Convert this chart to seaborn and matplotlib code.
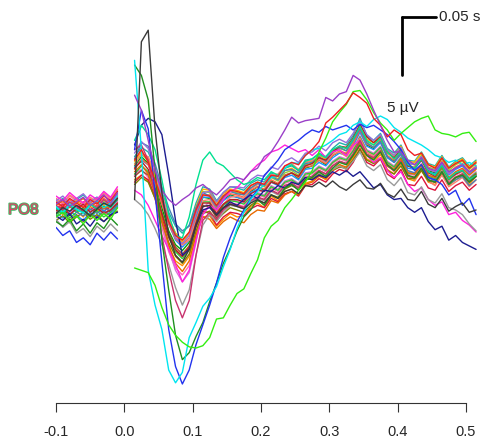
import pandas as pd
import seaborn as sns
import matplotlib.pyplot as plt
import matplotlib.patheffects as pe

# sample times (s): baseline part and post-stimulus part
t_pre = [-0.10, -0.09, -0.08, -0.07, -0.06, -0.05, -0.04, -0.03, -0.02, -0.01]
t_post = [0.015, 0.025, 0.035, 0.045, 0.055, 0.065, 0.075, 0.085, 0.095, 0.105,
          0.115, 0.125, 0.135, 0.145, 0.155, 0.165, 0.175, 0.185, 0.195, 0.205,
          0.215, 0.225, 0.235, 0.245, 0.255, 0.265, 0.275, 0.285, 0.295, 0.305,
          0.315, 0.325, 0.335, 0.345, 0.355, 0.365, 0.375, 0.385, 0.395, 0.405,
          0.415, 0.425, 0.435, 0.445, 0.455, 0.465, 0.475, 0.485, 0.495, 0.505,
          0.515]

# channel amplitudes (uV)
spike_pre = [-0.3, 0.2, -0.1, 0.4, 0.0, -0.5, 0.1, 0.6, 0.3, 1.0]
spike_post = [0.9, 14.5, 15.5, 7.0, 1.5, -2.2, -3.9, -4.5, -3.4, -1.3,
              0.3, 0.4, -0.5, 0.2, 0.5, 0.3, 0.1, 0.6, 0.9, 0.6,
              1.3, 1.0, 1.6, 1.8, 1.4, 2.1, 2.0, 2.4, 2.0, 2.5,
              2.0, 1.7, 2.2, 2.6, 1.9, 1.8, 2.3, 1.4, 1.1, 1.8,
              0.9, 0.8, 1.6, 0.5, 0.2, 1.0, -0.1, 0.3, 0.6, -0.2, 0.0]

cyan_pre = [0.3, -0.2, 0.5, 0.1, -0.3, 0.4, 0.8, 0.2, 0.6, 1.2]
cyan_post = [12.9, 5.2, -5.2, -8.2, -10.3, -13.8, -14.9, -14.0, -11.0, -9.7,
             -8.3, -7.6, -6.6, -4.9, -3.4, -1.6, -0.2, 0.9, 1.6, 2.2,
             2.8, 2.9, 3.6, 4.1, 4.0, 4.7, 5.2, 5.3, 5.6, 6.0,
             6.5, 6.7, 7.3, 7.6, 7.2, 7.8, 8.1, 7.8, 7.1, 6.7,
             6.2, 5.9, 5.6, 5.2, 4.7, 4.5, 4.1, 4.3, 3.9, 4.1, 3.8]

blue_pre = [-1.5, -2.2, -1.8, -2.8, -2.4, -3.0, -2.0, -2.6, -1.9, -2.5]
blue_post = [5.2, 8.6, 7.0, 1.5, -4.5, -10.3, -13.5, -15.0, -13.8, -11.6,
             -9.9, -8.2, -6.3, -4.1, -2.4, -1.0, 0.0, 1.0, 1.7, 3.0,
             3.6, 4.3, 5.2, 5.6, 6.0, 6.5, 6.9, 6.7, 7.2, 6.9,
             7.1, 7.3, 6.9, 7.4, 7.1, 7.3, 6.9, 6.5, 5.9, 5.2,
             4.1, 3.4, 3.9, 2.8, 2.6, 2.2, 1.3, 1.7, 0.4, 1.0, -0.4]

lime_pre = [-0.6, -0.2, -1.0, -0.5, -1.2, -0.4, -0.9, -0.3, -0.8, 0.2]
lime_post = [-5.0, -5.2, -5.4, -6.5, -8.4, -9.9, -10.8, -11.4, -11.8, -11.9,
             -11.7, -11.0, -9.4, -9.3, -8.2, -7.2, -6.8, -5.5, -4.3, -2.4,
             -1.4, -0.9, 0.2, 0.9, 1.7, 2.4, 3.4, 5.0, 6.2, 7.6,
             8.4, 9.1, 10.2, 10.3, 9.5, 8.4, 7.5, 6.9, 6.0, 6.6,
             7.1, 7.6, 7.9, 8.1, 6.9, 6.6, 6.5, 6.3, 6.6, 6.7, 5.9]

dkgreen_pre = [-1.0, -1.4, -0.8, -1.8, -1.2, -2.0, -1.1, -1.6, -0.7, -1.3]
dkgreen_post = [12.5, 11.6, 9.5, 3.4, -2.6, -6.9, -10.8, -12.9, -12.3, -10.9,
                -9.7, -7.9, -6.3, -4.6, -3.3, -1.8, -0.6, 0.0, 0.9, 0.4,
                1.3, 1.0, 1.9, 2.2, 1.7, 2.6, 2.8, 3.3, 2.9, 3.6,
                4.1, 3.9, 4.7, 5.6, 4.7, 4.3, 5.0, 3.9, 3.4, 4.1,
                3.0, 2.8, 3.6, 2.6, 2.4, 3.3, 2.2, 2.8, 3.0, 2.4, 2.9]

purple_pre = [0.5, 0.9, 0.3, 0.7, 1.1, 0.4, 0.8, 1.3, 0.6, 1.5]
purple_post = [9.9, 8.6, 6.0, 3.4, 1.7, 0.9, 0.4, 0.9, 1.3, 1.9,
               2.2, 1.7, 1.3, 1.9, 2.6, 2.8, 2.6, 3.3, 3.6, 4.6,
               5.0, 5.9, 6.9, 8.0, 7.5, 7.7, 7.8, 7.9, 9.7, 9.4,
               10.0, 10.2, 11.6, 11.2, 10.0, 8.6, 7.3, 6.0, 5.0, 5.0,
               4.3, 3.9, 4.5, 3.6, 3.4, 4.1, 3.3, 3.6, 3.9, 3.3, 3.6]

spring_pre = [0.2, -0.3, 0.4, 0.0, -0.2, 0.5, 0.1, 0.6, 0.2, 0.9]
spring_post = [6.0, 7.3, 6.5, 5.2, 2.6, -0.4, -2.2, -2.4, -0.6, 2.2,
               4.3, 5.0, 4.1, 3.8, 3.2, 2.6, 2.2, 2.4, 2.8, 2.6,
               3.3, 3.0, 3.6, 3.9, 3.4, 4.2, 4.4, 4.8, 4.5, 5.2,
               5.5, 5.3, 6.1, 7.2, 6.0, 5.6, 6.2, 5.0, 4.4, 5.1,
               3.9, 3.6, 4.4, 3.3, 3.0, 3.8, 2.7, 3.2, 3.4, 2.6, 3.0]

gray_pre = [-0.8, -1.5, -1.0, -2.0, -1.6, -2.3, -1.4, -1.9, -1.2, -1.8]
gray_post = [0.9, 0.4, -0.4, -1.6, -3.0, -4.7, -6.7, -8.2, -6.9, -3.9,
             -1.3, -0.4, -1.0, -0.2, 0.4, 0.3, 0.1, 0.7, 1.0, 0.8,
             1.6, 1.3, 2.0, 2.2, 1.8, 2.7, 2.8, 3.2, 2.9, 3.5,
             3.8, 3.5, 4.2, 5.0, 3.8, 3.4, 3.9, 2.6, 2.1, 2.8,
             1.5, 1.3, 2.0, 0.9, 0.6, 1.4, 0.2, 0.0, -0.4, -1.2, -1.8]

vred_pre = [0.4, 0.0, 0.7, 0.3, -0.1, 0.5, 0.2, 0.9, 0.4, 1.1]
vred_post = [5.2, 5.6, 4.3, 1.3, -2.2, -5.2, -7.8, -9.3, -7.8, -3.9,
             -0.9, -0.2, -0.8, 0.0, 0.5, 0.4, 0.2, 0.8, 1.1, 0.9,
             1.7, 1.4, 2.1, 2.3, 1.9, 2.8, 2.9, 3.4, 3.1, 3.8,
             4.2, 4.0, 4.8, 6.0, 4.8, 4.5, 5.1, 3.8, 3.4, 4.2,
             2.9, 2.8, 3.6, 2.6, 2.4, 3.3, 2.3, 2.8, 3.1, 2.4, 2.9]

navy_pre = [-0.5, -0.9, -0.3, -1.2, -0.8, -1.4, -0.6, -1.0, -0.4, -0.2]
navy_post = [5.6, 7.3, 7.9, 7.6, 6.5, 3.0, -0.9, -3.9, -3.4, -1.3,
             0.0, 0.2, -0.4, 0.2, 0.7, 0.4, 0.9, 1.3, 1.0, 1.7,
             1.6, 2.1, 1.9, 2.4, 2.2, 2.8, 2.6, 3.0, 2.8, 3.3,
             3.0, 3.4, 2.9, 3.3, 2.6, 1.9, 2.2, 1.3, 0.9, 1.0,
             0.2, -0.2, 0.2, -1.0, -1.7, -1.4, -2.6, -2.2, -2.8, -3.1, -3.4]

red_pre = [0.7, 0.3, 1.0, 0.6, 0.2, 0.9, 0.5, 1.2, 0.8, 1.6]
red_post = [4.3, 5.2, 4.1, 2.6, 0.9, -1.0, -2.2, -2.6, -1.9, 0.0,
            1.3, 1.2, 0.4, 1.2, 1.7, 1.6, 1.4, 2.1, 2.4, 2.2,
            3.0, 2.9, 3.8, 4.1, 3.9, 4.7, 5.2, 5.9, 7.5, 8.0,
            8.6, 9.2, 10.1, 9.7, 9.2, 7.9, 7.3, 6.3, 6.9, 6.5,
            5.2, 4.7, 4.9, 3.9, 3.6, 4.5, 3.6, 4.0, 4.3, 3.6, 4.1]

magenta_pre = [1.2, 0.8, 1.5, 1.0, 0.6, 1.3, 0.9, 1.6, 1.1, 2.0]
magenta_post = [1.7, 1.3, 0.4, -0.9, -2.2, -3.4, -4.7, -6.2, -5.2, -2.6,
                -0.4, 0.4, 0.0, 0.9, 1.6, 1.9, 2.6, 3.3, 3.9, 4.3,
                5.0, 5.2, 5.6, 5.3, 5.0, 5.2, 4.7, 5.2, 4.5, 5.0,
                5.2, 4.7, 5.6, 6.0, 4.7, 4.1, 4.5, 3.4, 2.8, 3.3,
                2.2, 1.6, 1.9, 0.9, 0.4, 0.7, -0.4, -0.2, -0.9, -1.3, -1.9]

orange_pre = [0.2, -0.4, 0.5, -0.1, -0.6, 0.3, -0.2, 0.4, 0.0, 0.6]
orange_post = [2.6, 3.0, 2.5, 1.0, -1.2, -3.2, -4.4, -4.8, -4.0, -2.0,
               -0.6, -0.5, -1.4, -0.8, -0.3, -0.6, -0.5, 0.3, 0.6, 0.2,
               1.2, 0.8, 1.6, 1.8, 1.3, 2.3, 2.5, 3.0, 2.6, 3.4,
               3.9, 3.5, 4.4, 5.6, 4.4, 4.1, 4.8, 3.5, 3.1, 4.0,
               2.7, 2.5, 3.4, 2.4, 2.2, 3.2, 2.1, 2.6, 3.0, 2.2, 2.9]

green_pre = [-0.3, 0.1, -0.5, 0.2, -0.1, -0.6, 0.0, 0.3, -0.2, 0.5]
green_post = [3.8, 4.6, 4.0, 2.4, 0.2, -1.8, -3.0, -3.5, -2.8, -0.7,
              1.1, 1.0, 0.0, 0.9, 1.3, 1.1, 0.9, 1.6, 2.0, 1.7,
              2.5, 2.2, 3.0, 3.2, 2.7, 3.6, 3.8, 4.3, 3.9, 4.7,
              5.0, 4.8, 5.7, 6.8, 5.6, 5.3, 6.0, 4.6, 4.2, 5.0,
              3.8, 3.6, 4.4, 3.4, 3.2, 4.1, 3.1, 3.6, 3.9, 3.2, 3.7]

teal_pre = [0.6, 1.0, 0.4, 0.9, 1.3, 0.7, 1.1, 0.5, 1.0, 1.4]
teal_post = [4.6, 5.4, 5.0, 3.6, 1.6, -0.2, -1.4, -2.0, -1.3, 0.6,
             2.0, 1.8, 0.8, 1.5, 2.0, 1.9, 1.7, 2.3, 2.6, 2.4,
             3.2, 2.9, 3.6, 3.8, 3.4, 4.3, 4.4, 4.9, 4.6, 5.3,
             5.8, 5.6, 6.4, 7.9, 6.4, 6.0, 6.6, 5.3, 4.9, 5.6,
             4.3, 4.2, 5.0, 4.0, 3.8, 4.7, 3.7, 4.2, 4.5, 3.8, 4.3]

pink_pre = [0.9, 0.5, 1.2, 0.8, 0.3, 1.0, 0.6, 1.4, 0.9, 1.7]
pink_post = [3.0, 3.5, 2.8, 1.0, -1.5, -3.6, -5.0, -5.6, -4.8, -2.5,
             -0.2, 0.4, -0.5, 0.2, 0.6, 0.5, 0.3, 1.0, 1.3, 1.1,
             1.9, 1.6, 2.3, 2.5, 2.1, 3.0, 3.1, 3.6, 3.3, 4.0,
             4.4, 4.2, 5.0, 6.1, 5.0, 4.7, 5.3, 4.0, 3.6, 4.4,
             3.1, 3.0, 3.8, 2.8, 2.6, 3.5, 2.5, 3.0, 3.3, 2.6, 3.1]

brown_pre = [-0.6, -0.2, -0.9, -0.4, -1.0, -0.3, -0.7, -0.1, -0.5, 0.2]
brown_post = [2.9, 3.4, 3.0, 1.6, -0.4, -2.0, -3.2, -3.8, -3.1, -1.2,
              0.4, 0.3, -0.7, 0.1, 0.5, 0.4, 0.2, 0.8, 1.1, 0.9,
              1.7, 1.4, 2.1, 2.3, 1.9, 2.8, 2.9, 3.4, 3.1, 3.8,
              4.2, 4.0, 4.8, 6.0, 4.8, 4.5, 5.1, 3.8, 3.4, 4.2,
              2.9, 2.8, 3.6, 2.6, 2.4, 3.3, 2.3, 2.8, 3.1, 2.4, 2.9]

ygreen_pre = [0.3, -0.1, 0.6, 0.2, -0.3, 0.5, 0.1, 0.8, 0.4, 1.0]
ygreen_post = [4.0, 4.8, 4.3, 2.9, 1.0, -0.8, -2.0, -2.6, -2.0, 0.1,
               1.6, 1.5, 0.4, 1.2, 1.6, 1.5, 1.3, 1.9, 2.2, 2.0,
               2.8, 2.5, 3.2, 3.4, 3.0, 3.9, 4.0, 4.5, 4.2, 4.9,
               5.3, 5.1, 5.9, 7.1, 5.9, 5.6, 6.2, 4.9, 4.5, 5.3,
               4.0, 3.9, 4.7, 3.7, 3.5, 4.4, 3.4, 3.9, 4.2, 3.5, 4.0]

crimson_pre = [0.1, 0.5, -0.2, 0.3, 0.7, 0.0, 0.4, -0.1, 0.3, 0.8]
crimson_post = [2.4, 3.0, 2.6, 1.2, -0.7, -2.4, -3.5, -4.0, -3.4, -1.5,
                -0.1, -0.3, -1.3, -0.6, -0.2, -0.3, -0.5, 0.1, 0.4, 0.2,
                1.0, 0.7, 1.4, 1.6, 1.2, 2.1, 2.2, 2.7, 2.4, 3.1,
                3.5, 3.3, 4.1, 5.3, 4.1, 3.8, 4.4, 3.1, 2.7, 3.5,
                2.2, 2.1, 2.9, 1.9, 1.7, 2.6, 1.6, 2.1, 2.4, 1.7, 2.2]

dodger_pre = [-0.2, -0.7, -0.1, -0.5, -0.9, -0.2, -0.6, 0.0, -0.4, 0.3]
dodger_post = [3.7, 4.3, 3.9, 2.5, 0.6, -1.2, -2.6, -3.2, -2.6, -0.6,
               1.1, 1.1, 0.0, 0.8, 1.2, 1.1, 0.9, 1.5, 1.8, 1.6,
               2.4, 2.1, 2.8, 3.0, 2.6, 3.5, 3.6, 4.1, 3.8, 4.5,
               4.9, 4.7, 5.5, 6.7, 5.5, 5.2, 5.8, 4.5, 4.1, 4.9,
               3.6, 3.5, 4.3, 3.3, 3.1, 4.0, 3.0, 3.5, 3.8, 3.1, 3.6]

gold_pre = [0.5, 0.9, 0.3, 0.8, 0.2, 0.6, 1.0, 0.4, 0.8, 1.2]
gold_post = [4.2, 5.0, 4.4, 3.0, 1.0, -0.7, -2.0, -2.8, -2.1, 0.3,
             1.8, 1.7, 0.6, 1.4, 1.8, 1.7, 1.5, 2.1, 2.4, 2.2,
             3.0, 2.7, 3.4, 3.6, 3.2, 4.1, 4.2, 4.7, 4.4, 5.1,
             5.5, 5.3, 6.1, 7.3, 6.1, 5.8, 6.4, 5.1, 4.7, 5.5,
             4.2, 4.1, 4.9, 3.9, 3.7, 4.6, 3.6, 4.1, 4.4, 3.7, 4.2]

orchid_pre = [0.0, 0.4, -0.3, 0.2, 0.6, -0.1, 0.3, -0.4, 0.1, 0.7]
orchid_post = [3.0, 3.8, 3.2, 1.5, -1.0, -3.4, -5.2, -6.2, -5.4, -2.8,
               0.2, 0.7, -0.3, 0.5, 0.9, 0.8, 0.6, 1.2, 1.5, 1.3,
               2.1, 1.8, 2.5, 2.7, 2.3, 3.2, 3.3, 3.8, 3.5, 4.2,
               4.6, 4.4, 5.2, 6.4, 5.2, 4.9, 5.5, 4.2, 3.8, 4.6,
               3.3, 3.2, 4.0, 3.0, 2.8, 3.7, 2.7, 3.2, 3.5, 2.8, 3.3]

tomato_pre = [0.6, 0.2, 0.9, 0.4, 0.0, 0.7, 0.3, 1.0, 0.6, 1.3]
tomato_post = [3.5, 4.4, 3.9, 2.4, 0.5, -1.2, -2.5, -3.0, -2.4, -0.3,
               1.3, 1.3, 0.2, 1.0, 1.4, 1.3, 1.1, 1.7, 2.0, 1.8,
               2.6, 2.3, 3.0, 3.2, 2.8, 3.7, 3.8, 4.3, 4.0, 4.7,
               5.1, 4.9, 5.7, 6.9, 5.7, 5.4, 6.0, 4.7, 4.3, 5.1,
               3.8, 3.7, 4.5, 3.5, 3.3, 4.2, 3.2, 3.7, 4.0, 3.3, 3.8]

lgreen_pre = [-0.4, 0.0, -0.7, -0.2, 0.2, -0.5, -0.1, -0.6, -0.2, 0.4]
lgreen_post = [3.1, 3.8, 3.3, 1.8, -0.2, -2.1, -3.6, -4.2, -3.4, -1.0,
               0.7, 0.7, -0.4, 0.4, 0.8, 0.7, 0.5, 1.1, 1.4, 1.2,
               2.0, 1.7, 2.4, 2.6, 2.2, 3.1, 3.2, 3.7, 3.4, 4.1,
               4.5, 4.3, 5.1, 6.3, 5.1, 4.8, 5.4, 4.1, 3.7, 4.5,
               3.2, 3.1, 3.9, 2.9, 2.7, 3.6, 2.6, 3.1, 3.4, 2.7, 3.2]

salmon_pre = [1.0, 0.6, 1.3, 0.9, 0.5, 1.1, 0.7, 1.5, 1.0, 1.8]
salmon_post = [3.9, 4.8, 4.6, 3.2, 1.4, -0.6, -2.2, -3.0, -2.6, -0.9,
               0.8, 0.9, -0.1, 0.5, 1.1, 1.2, 1.0, 1.8, 2.2, 2.3,
               3.0, 3.1, 3.8, 4.0, 3.5, 4.1, 4.3, 4.4, 4.1, 4.8,
               5.0, 4.6, 5.4, 6.2, 5.0, 4.6, 5.0, 3.9, 3.3, 4.1,
               3.0, 2.6, 3.5, 2.5, 2.1, 3.0, 2.0, 2.4, 2.8, 2.0, 2.6]

olive_pre = [-0.9, -0.5, -1.1, -0.6, -0.2, -0.8, -0.4, -1.0, -0.5, -0.1]
olive_post = [2.2, 2.8, 2.4, 1.0, -1.0, -2.8, -4.0, -4.6, -3.8, -1.8,
              -0.3, -0.1, -0.9, -0.3, 0.2, 0.0, -0.2, 0.4, 0.8, 0.6,
              1.3, 1.1, 1.8, 2.1, 1.8, 2.6, 2.7, 3.1, 2.9, 3.4,
              3.7, 3.6, 4.3, 5.2, 4.3, 4.0, 4.5, 3.4, 3.1, 3.8,
              2.7, 2.7, 3.4, 2.5, 2.4, 3.2, 2.3, 2.8, 3.1, 2.5, 3.0]

steel_pre = [0.1, -0.3, 0.3, -0.2, -0.5, 0.1, -0.3, 0.2, -0.1, 0.4]
steel_post = [4.4, 5.8, 5.5, 4.0, 2.0, 0.2, -1.2, -1.8, -1.4, 0.2,
              1.5, 1.2, 0.3, 1.1, 1.6, 1.4, 1.3, 1.9, 2.3, 2.1,
              2.9, 2.6, 3.4, 3.5, 3.2, 4.0, 4.1, 4.6, 4.2, 5.0,
              5.4, 5.1, 6.0, 7.0, 5.8, 5.4, 5.9, 4.6, 4.1, 4.8,
              3.4, 3.2, 3.9, 2.8, 2.5, 3.3, 2.2, 2.6, 2.9, 2.1, 2.6]

dorange_pre = [0.4, 0.8, 0.2, 0.6, 1.0, 0.3, 0.7, 0.1, 0.5, 0.9]
dorange_post = [3.3, 3.9, 3.1, 1.4, -0.9, -3.0, -4.6, -5.3, -4.4, -2.2,
                -0.6, -0.8, -1.6, -1.0, -0.6, -0.9, -1.1, -0.4, 0.0, -0.1,
                0.8, 0.6, 1.3, 1.6, 1.3, 2.2, 2.4, 2.9, 2.7, 3.4,
                3.9, 3.7, 4.6, 5.8, 4.7, 4.4, 5.1, 3.9, 3.5, 4.4,
                3.2, 3.1, 3.9, 3.0, 2.8, 3.7, 2.8, 3.3, 3.6, 3.0, 3.5]

dred_pre = [-0.1, 0.3, -0.4, 0.1, 0.5, -0.2, 0.2, -0.3, 0.0, 0.6]
dred_post = [3.6, 4.2, 3.5, 1.9, -0.3, -2.2, -3.4, -4.0, -3.2, -1.1,
             0.6, 0.6, -0.3, 0.5, 0.9, 0.9, 0.7, 1.4, 1.7, 1.6,
             2.4, 2.2, 2.9, 3.2, 2.9, 3.8, 4.0, 4.5, 4.3, 5.0,
             5.5, 5.4, 6.2, 7.4, 6.3, 5.8, 6.3, 5.0, 4.5, 5.2,
             3.8, 3.6, 4.3, 3.2, 2.9, 3.8, 2.7, 3.1, 3.4, 2.6, 3.1]

mpurple_pre = [0.8, 1.2, 0.6, 1.0, 1.4, 0.7, 1.1, 0.5, 0.9, 1.3]
mpurple_post = [4.9, 5.9, 5.3, 3.5, 1.2, -1.0, -2.4, -2.9, -2.2, -0.2,
                1.5, 1.6, 0.7, 1.5, 2.0, 2.0, 1.9, 2.6, 3.0, 2.9,
                3.7, 3.5, 4.2, 4.5, 4.1, 4.9, 5.0, 5.5, 5.1, 5.8,
                6.1, 5.8, 6.6, 7.7, 6.5, 6.0, 6.5, 5.2, 4.7, 5.4,
                4.1, 3.9, 4.6, 3.5, 3.3, 4.1, 3.1, 3.6, 3.9, 3.2, 3.7]

channels = [
    ("orange", "#ff8c00", orange_pre, orange_post),
    ("green", "#00a000", green_pre, green_post),
    ("teal", "#20b2aa", teal_pre, teal_post),
    ("pink", "#ff69b4", pink_pre, pink_post),
    ("brown", "#a0522d", brown_pre, brown_post),
    ("ygreen", "#9acd32", ygreen_pre, ygreen_post),
    ("crimson", "#dc143c", crimson_pre, crimson_post),
    ("dodger", "#1e90ff", dodger_pre, dodger_post),
    ("gold", "#ffb000", gold_pre, gold_post),
    ("orchid", "#da70d6", orchid_pre, orchid_post),
    ("tomato", "#ff6347", tomato_pre, tomato_post),
    ("lgreen", "#32cd32", lgreen_pre, lgreen_post),
    ("salmon", "#fa8072", salmon_pre, salmon_post),
    ("olive", "#808000", olive_pre, olive_post),
    ("steel", "#4682b4", steel_pre, steel_post),
    ("dorange", "#e86a00", dorange_pre, dorange_post),
    ("dred", "#b22222", dred_pre, dred_post),
    ("mpurple", "#9370db", mpurple_pre, mpurple_post),
    ("magenta", "#ff22dd", magenta_pre, magenta_post),
    ("gray", "#9a9a9a", gray_pre, gray_post),
    ("vred", "#c8326e", vred_pre, vred_post),
    ("navy", "#1c1c90", navy_pre, navy_post),
    ("spring", "#00e090", spring_pre, spring_post),
    ("dkgreen", "#1f8f1f", dkgreen_pre, dkgreen_post),
    ("blue", "#2233ee", blue_pre, blue_post),
    ("cyan", "#00e5f0", cyan_pre, cyan_post),
    ("lime", "#33ee11", lime_pre, lime_post),
    ("red", "#ee2020", red_pre, red_post),
    ("purple", "#9a3fc8", purple_pre, purple_post),
    ("spike", "#3a3a3a", spike_pre, spike_post),
]

rows = []
for name, color, pre, post in channels:
    for t, v in zip(t_pre, pre):
        rows.append((name, name + "_pre", t, v))
    for t, v in zip(t_post, post):
        rows.append((name, name + "_post", t, v))
df = pd.DataFrame(rows, columns=["channel", "seg", "time", "uV"])
palette = {name: color for name, color, _, _ in channels}

sns.set_style("white")
plt.rcParams["font.family"] = ["Liberation Sans", "DejaVu Sans"]

fig = plt.figure(figsize=(4.86, 4.41), dpi=100)
ax = fig.add_axes([56 / 486, 38 / 441, 423.5 / 486, 393 / 441])
sns.lineplot(data=df, x="time", y="uV", hue="channel", units="seg",
             estimator=None, palette=palette, legend=False, sort=False,
             linewidth=1.0, ax=ax)

ax.set_xlim(-0.1, 0.52)
ax.set_ylim(-16.64, 17.24)
ax.set_xlabel("")
ax.set_ylabel("")
ax.set_yticks([])
ticks = [-0.1, 0.0, 0.1, 0.2, 0.3, 0.4, 0.5]
ax.set_xticks(ticks)
ax.set_xticklabels(["%.1f" % t for t in ticks], fontsize=10.5)
ax.tick_params(axis="x", direction="out", length=6.5, width=0.8,
               color="#333333", pad=9, bottom=True)
for s in ["top", "right", "left"]:
    ax.spines[s].set_visible(False)
ax.spines["bottom"].set_bounds(-0.1, 0.5)
ax.spines["bottom"].set_color("#333333")
ax.spines["bottom"].set_linewidth(0.8)

# scale bar
ax.plot([0.407, 0.407], [11.64, 16.64], color="black", lw=2, clip_on=False)
ax.plot([0.407, 0.457], [16.64, 16.64], color="black", lw=2, clip_on=False)
ax.text(0.4605, 16.64, "0.05 s", fontsize=11, ha="left", va="center")
ax.text(0.385, 8.8, "5 µV", fontsize=11, ha="left", va="center")

# channel label on the left (several labels printed on top of each other)
fig.text(8 / 486, 1 - 210 / 441, "PO8", color="#e0406a", fontsize=11,
         ha="left", va="center",
         path_effects=[pe.withStroke(linewidth=1.3, foreground="#44bb66")])

fig.savefig("out.png", dpi=100)
